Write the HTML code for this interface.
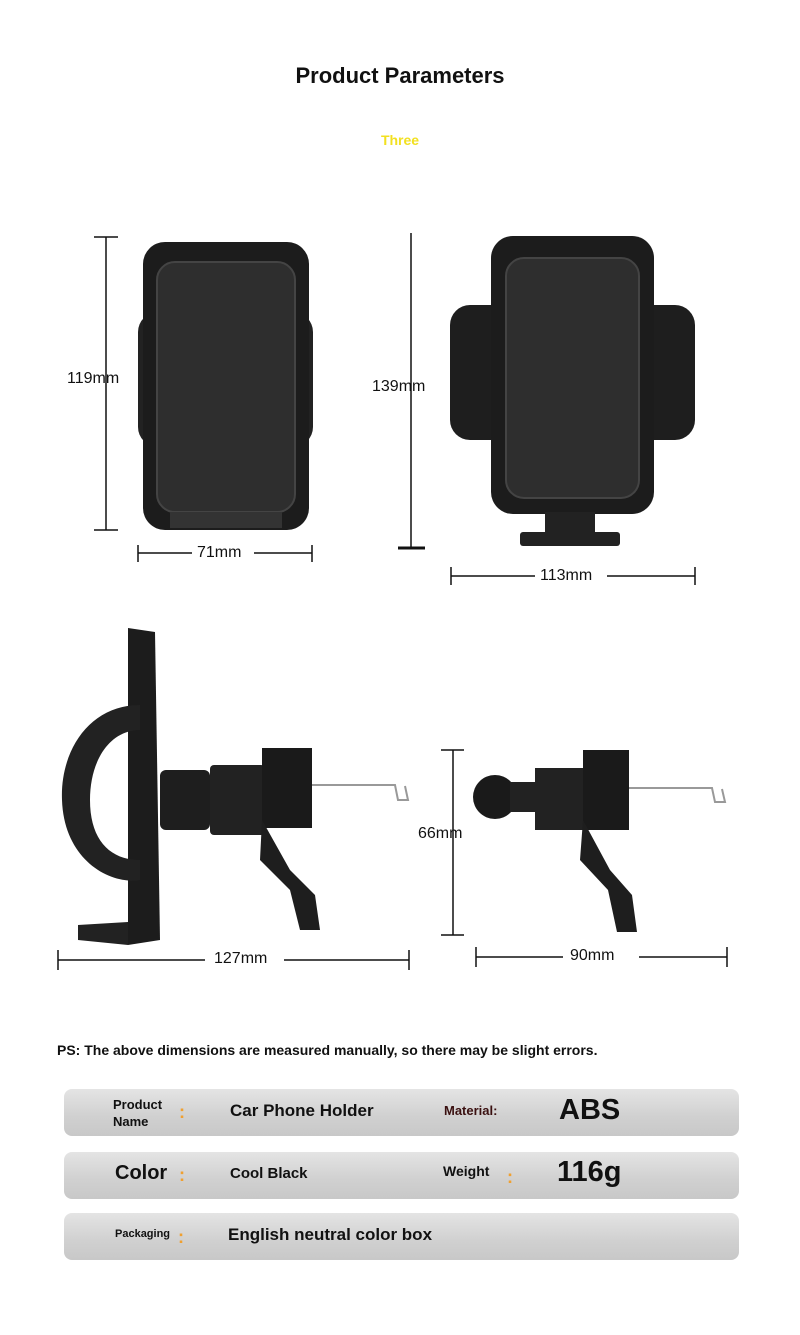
<!DOCTYPE html>
<html><head><meta charset="utf-8"><style>
body{margin:0;background:#fff;font-family:"Liberation Sans",sans-serif;}
#p{position:relative;width:800px;height:1335px;overflow:hidden;background:#fff}
.t{position:absolute;white-space:nowrap;color:#111}
.row{position:absolute;left:64px;width:675px;height:47px;border-radius:8px;background:linear-gradient(#e4e4e4,#d0d0d0 60%,#c8c8c8)}
.c{color:#f0a030;font-weight:bold}
</style></head><body><div id="p">
<div class="t" style="left:0;width:800px;text-align:center;top:63px;font-size:22px;font-weight:bold">Product Parameters</div>
<div class="t" style="left:0;width:800px;text-align:center;top:132px;font-size:14px;font-weight:bold;color:#f2e020">Three</div>
<svg width="800" height="1000" style="position:absolute;left:0;top:0">
<g stroke="#111" stroke-width="1.5" fill="none">
<line x1="106" y1="237" x2="106" y2="530"/><line x1="94" y1="237" x2="118" y2="237"/><line x1="94" y1="530" x2="118" y2="530"/>
<line x1="138" y1="553" x2="192" y2="553"/><line x1="254" y1="553" x2="312" y2="553"/><line x1="138" y1="545" x2="138" y2="562"/><line x1="312" y1="545" x2="312" y2="562"/>
<line x1="411" y1="233" x2="411" y2="548"/><line x1="398" y1="548" x2="425" y2="548" stroke-width="3"/>
<line x1="451" y1="576" x2="535" y2="576"/><line x1="607" y1="576" x2="695" y2="576"/><line x1="451" y1="567" x2="451" y2="585"/><line x1="695" y1="567" x2="695" y2="585"/>
<line x1="58" y1="960" x2="205" y2="960"/><line x1="284" y1="960" x2="409" y2="960"/><line x1="58" y1="950" x2="58" y2="970"/><line x1="409" y1="950" x2="409" y2="970"/>
<line x1="453" y1="750" x2="453" y2="935"/><line x1="441" y1="750" x2="464" y2="750"/><line x1="441" y1="935" x2="464" y2="935"/>
<line x1="476" y1="957" x2="563" y2="957"/><line x1="639" y1="957" x2="727" y2="957"/><line x1="476" y1="947" x2="476" y2="967"/><line x1="727" y1="947" x2="727" y2="967"/>
</g>
<!-- front 1 -->
<rect x="138" y="312" width="175" height="135" rx="20" fill="#222"/>
<rect x="143" y="242" width="166" height="288" rx="22" fill="#1c1c1c"/>
<rect x="157" y="262" width="138" height="250" rx="18" fill="#2e2e2e" stroke="#444" stroke-width="2"/>
<rect x="170" y="512" width="112" height="16" fill="#333"/>
<!-- front 2 -->
<rect x="450" y="305" width="245" height="135" rx="20" fill="#1e1e1e"/>
<rect x="491" y="236" width="163" height="278" rx="22" fill="#1c1c1c"/>
<rect x="506" y="258" width="133" height="240" rx="18" fill="#2e2e2e" stroke="#444" stroke-width="2"/>
<rect x="545" y="512" width="50" height="25" fill="#222"/><rect x="520" y="532" width="100" height="14" rx="3" fill="#222"/>
<!-- side 1 -->
<path d="M128 628 L155 632 L160 940 L128 945 Z" fill="#1c1c1c"/>
<path d="M140 705 C90 705 60 750 62 800 C64 860 110 885 140 880 L140 860 C110 860 90 840 90 800 C90 760 110 730 140 730 Z" fill="#222"/>
<path d="M78 925 L128 922 L128 945 L78 940 Z" fill="#222"/>
<rect x="160" y="770" width="50" height="60" rx="6" fill="#1e1e1e"/>
<rect x="210" y="765" width="55" height="70" rx="4" fill="#222"/>
<rect x="262" y="748" width="50" height="80" fill="#1a1a1a"/>
<path d="M262 820 L290 870 L315 895 L320 930 L300 930 L290 890 L260 860 Z" fill="#1e1e1e"/>
<path d="M312 785 L395 785 L398 800 L408 800 L405 786" stroke="#999" stroke-width="2" fill="none"/>
<!-- side 2 -->
<circle cx="495" cy="797" r="22" fill="#1a1a1a"/>
<rect x="510" y="782" width="30" height="30" fill="#222"/>
<rect x="535" y="768" width="50" height="62" fill="#222"/>
<rect x="583" y="750" width="46" height="80" fill="#1a1a1a"/>
<path d="M583 820 L610 870 L632 895 L637 932 L617 932 L608 890 L580 860 Z" fill="#1e1e1e"/>
<path d="M629 788 L712 788 L715 802 L725 802 L722 789" stroke="#999" stroke-width="2" fill="none"/>
</svg>
<div class="t" style="left:67px;top:370px;font-size:16px">119mm</div>
<div class="t" style="left:197px;top:544px;font-size:16px">71mm</div>
<div class="t" style="left:372px;top:378px;font-size:16px">139mm</div>
<div class="t" style="left:540px;top:567px;font-size:16px">113mm</div>
<div class="t" style="left:214px;top:950px;font-size:16px">127mm</div>
<div class="t" style="left:418px;top:825px;font-size:16px">66mm</div>
<div class="t" style="left:570px;top:947px;font-size:16px">90mm</div>
<div class="t" style="left:57px;top:1042px;font-size:14px;font-weight:bold">PS: The above dimensions are measured manually, so there may be slight errors.</div>
<div class="row" style="top:1089px"></div>
<div class="row" style="top:1152px"></div>
<div class="row" style="top:1213px"></div>
<div class="t" style="left:113px;top:1096px;font-size:13px;font-weight:bold;line-height:17px">Product<br>Name</div>
<div class="t c" style="left:179px;top:1102px;font-size:18px">:</div>
<div class="t" style="left:230px;top:1101px;font-size:17px;font-weight:bold">Car Phone Holder</div>
<div class="t" style="left:444px;top:1103px;font-size:13px;font-weight:bold;color:#3a1010">Material:</div>
<div class="t" style="left:559px;top:1094px;font-size:29px;font-weight:bold">ABS</div>
<div class="t" style="left:115px;top:1162px;font-size:20px;font-weight:bold">Color</div>
<div class="t c" style="left:179px;top:1165px;font-size:18px">:</div>
<div class="t" style="left:230px;top:1165px;font-size:15px;font-weight:bold">Cool Black</div>
<div class="t" style="left:443px;top:1163px;font-size:14px;font-weight:bold">Weight</div>
<div class="t c" style="left:507px;top:1167px;font-size:18px">:</div>
<div class="t" style="left:557px;top:1156px;font-size:29px;font-weight:bold">116g</div>
<div class="t" style="left:115px;top:1228px;font-size:11px;font-weight:bold">Packaging</div>
<div class="t c" style="left:178px;top:1227px;font-size:18px">:</div>
<div class="t" style="left:228px;top:1225px;font-size:17px;font-weight:bold">English neutral color box</div>
</div></body></html>
